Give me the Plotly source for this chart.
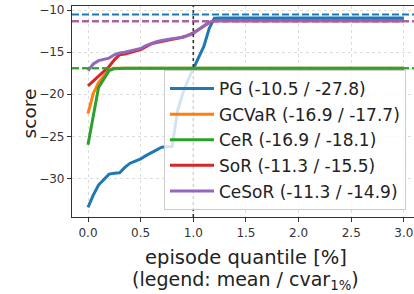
import plotly.graph_objects as go

# ---- data ----
x_q = [0.0, 0.05, 0.1, 0.15, 0.2, 0.25, 0.3, 0.35, 0.4, 0.45, 0.5, 0.55, 0.6,
       0.65, 0.7, 0.75, 0.8, 0.85, 0.9, 0.95, 1.0, 1.05, 1.1, 1.15, 1.2, 1.25,
       1.5, 2.0, 2.5, 3.0]

pg = [-33.45, -32.0, -30.8, -30.1, -29.5, -29.4, -29.35, -28.7, -28.2, -27.95,
      -27.7, -27.3, -26.95, -26.6, -26.3, -26.25, -26.2, -22.0, -19.9, -18.3,
      -16.9, -15.7, -14.3, -12.2, -10.95, -10.92, -10.92, -10.92, -10.92, -10.92]
gcvar = [-22.3, -19.9, -18.6, -17.8, -17.1, -16.9, -16.9, -16.9, -16.9, -16.9,
         -16.9, -16.9, -16.9, -16.9, -16.9, -16.9, -16.9, -16.9, -16.9, -16.9,
         -16.9, -16.9, -16.9, -16.9, -16.9, -16.9, -16.9, -16.9, -16.9, -16.9]
cer = [-26.0, -22.5, -19.2, -18.2, -17.2, -16.95, -16.9, -16.9, -16.9, -16.9,
       -16.9, -16.9, -16.9, -16.9, -16.9, -16.9, -16.9, -16.9, -16.9, -16.9,
       -16.9, -16.9, -16.9, -16.9, -16.9, -16.9, -16.9, -16.9, -16.9, -16.9]
sor = [-19.0, -18.45, -17.9, -17.35, -16.7, -15.9, -15.3, -15.2, -15.0, -14.85,
       -14.7, -14.3, -14.0, -13.85, -13.7, -13.55, -13.45, -13.35, -13.2, -13.0,
       -12.7, -12.3, -11.9, -11.5, -11.25, -11.25, -11.25, -11.25, -11.25, -11.25]
cesor = [-17.2, -16.4, -16.0, -15.85, -15.7, -15.3, -15.1, -15.0, -14.85, -14.7,
         -14.55, -14.2, -13.95, -13.75, -13.6, -13.45, -13.38, -13.3, -13.25, -13.0,
         -12.75, -12.3, -11.9, -11.45, -11.25, -11.25, -11.25, -11.25, -11.25, -11.25]

names = ["PG", "GCVaR", "CeR", "SoR", "CeSoR"]
means = [-10.5, -16.9, -16.9, -11.3, -11.3]
cvars = [-27.8, -17.7, -18.1, -15.5, -14.9]
series = [pg, gcvar, cer, sor, cesor]
colors = ["#1f77b4", "#ff7f0e", "#2ca02c", "#d62728", "#9467bd"]

x_ticks = [0.0, 0.5, 1.0, 1.5, 2.0, 2.5, 3.0]
x_tick_labels = ["0.0", "0.5", "1.0", "1.5", "2.0", "2.5", "3.0"]
y_ticks = [-30, -25, -20, -15, -10]
ref_quantile = 1.0

FONT = "DejaVu Sans"

fig = go.Figure()
for i, (nm, ys) in enumerate(zip(names, series)):
    fig.add_trace(go.Scatter(
        x=x_q, y=ys, mode="lines",
        name=f"{nm} ({means[i]:.1f} / {cvars[i]:.1f})",
        line=dict(color=colors[i], width=3),
        legendgroup=nm,
    ))

shapes = []
for i, m in enumerate(means):
    shapes.append(dict(type="line", xref="paper", x0=0, x1=1, yref="y", y0=m, y1=m,
                       line=dict(color=colors[i], width=2, dash="7px,3px"), layer="above"))
shapes.append(dict(type="line", xref="x", x0=ref_quantile, x1=ref_quantile, yref="paper",
                   y0=0, y1=1, line=dict(color="#333333", width=1.6, dash="dot"), layer="above"))

fig.update_layout(
    width=414, height=294,
    margin=dict(l=72, r=0, t=6, b=77),
    paper_bgcolor="white", plot_bgcolor="white",
    font=dict(family=FONT, color="#222222", size=12),
    shapes=shapes,
    showlegend=True,
    legend=dict(
        x=(164 - 72) / 342, y=(217 - 70) / 211, xanchor="left", yanchor="top",
        bgcolor="rgba(255,255,255,0.8)", bordercolor="#cccccc", borderwidth=1,
        font=dict(family=FONT, size=17, color="#222222"),
        tracegroupgap=0.5, traceorder="grouped", itemwidth=44,
    ),
    xaxis=dict(
        range=[-0.152, 3.096], tickvals=x_ticks, ticktext=x_tick_labels,
        showgrid=True, gridcolor="#dddddd", gridwidth=1, griddash="dot",
        zeroline=False, showline=True, linecolor="#333333", linewidth=1.2, mirror=True,
        ticks="outside", ticklen=4, tickcolor="#333333",
        tickfont=dict(family=FONT, size=12, color="#333333"),
    ),
    yaxis=dict(
        range=[-34.6, -9.5], tickvals=y_ticks,
        showgrid=True, gridcolor="#dddddd", gridwidth=1, griddash="dot",
        zeroline=False, showline=True, linecolor="#333333", linewidth=1.2,
        ticks="outside", ticklen=4, tickcolor="#333333",
        tickfont=dict(family=FONT, size=12, color="#333333"),
    ),
    annotations=[
        dict(text="score", xref="paper", yref="paper", x=-0.16, y=0.49,
             textangle=-90, showarrow=False, font=dict(family=FONT, size=18.5, color="#222222")),
        dict(text="episode quantile [%]", xref="paper", yref="paper", x=0.508, y=-0.19,
             yanchor="middle", showarrow=False, font=dict(family=FONT, size=19.5, color="#222222")),
        dict(text="(legend: mean / cvar<sub>1%</sub>)", xref="paper", yref="paper", x=0.508, y=-0.302,
             yanchor="middle", showarrow=False, font=dict(family=FONT, size=19, color="#222222")),
    ],
)

fig.write_html("out.html", post_script="document.body.style.margin='0';",
               config={"displayModeBar": False})
